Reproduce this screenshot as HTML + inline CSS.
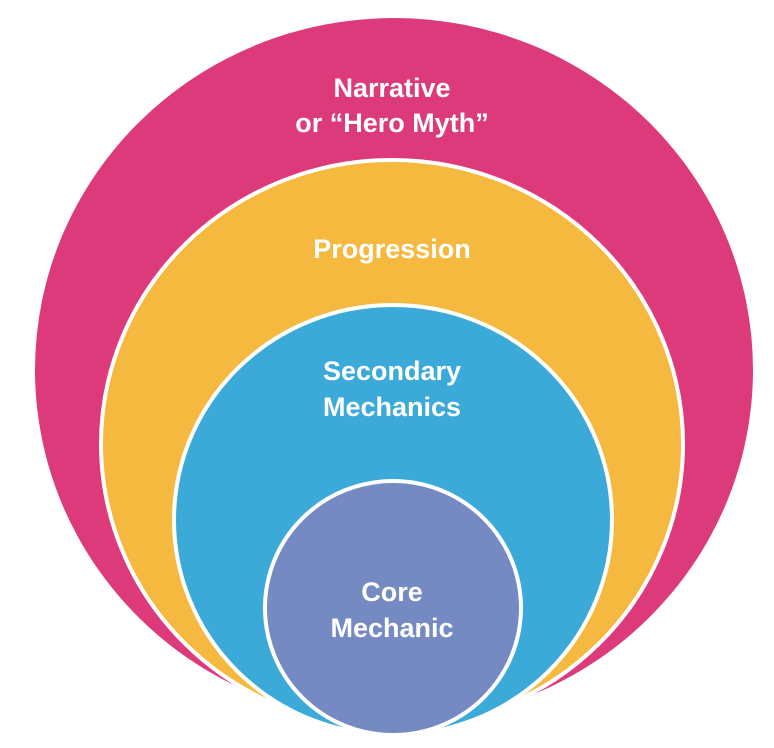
<!DOCTYPE html>
<html><head><meta charset="utf-8"><style>
html,body{margin:0;padding:0;background:#fff;}
svg{display:block;}
text{font-family:"Liberation Sans",sans-serif;font-weight:bold;font-size:27px;fill:#fff;text-anchor:middle;}
</style></head><body>
<svg width="774" height="748" viewBox="0 0 774 748">
<ellipse cx="394" cy="370" rx="359" ry="352" fill="#dc3a7a"/>
<ellipse cx="392" cy="444" rx="291" ry="284" fill="#f6b940" stroke="#fff" stroke-width="4"/>
<ellipse cx="393" cy="520" rx="219" ry="215" fill="#3caad8" stroke="#fff" stroke-width="4"/>
<ellipse cx="393" cy="608" rx="128" ry="127" fill="#758ac3" stroke="#fff" stroke-width="4"/>
<text x="392" y="97">Narrative</text>
<text x="392" y="132">or “Hero Myth”</text>
<text x="392" y="258">Progression</text>
<text x="392" y="380">Secondary</text>
<text x="392" y="416">Mechanics</text>
<text x="392" y="601">Core</text>
<text x="392" y="637">Mechanic</text>
</svg>
</body></html>
